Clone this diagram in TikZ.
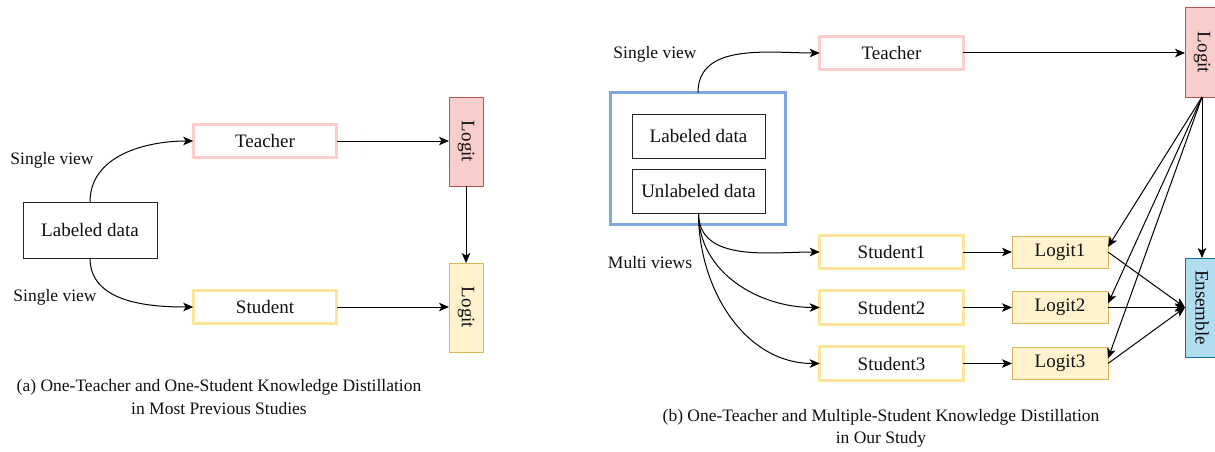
\documentclass[tikz,border=0pt]{standalone}
\usepackage{fontspec}
\setmainfont{Liberation Serif}
\newfontfamily\figserif{Liberation Serif}
\usetikzlibrary{arrows.meta}
\definecolor{teacherc}{HTML}{FFCCCC}
\definecolor{studentc}{HTML}{FFE599}
\definecolor{groupc}{HTML}{7EA6E0}
\definecolor{redfill}{HTML}{F8CECC}
\definecolor{redline}{HTML}{B85450}
\definecolor{yelfill}{HTML}{FFF2CC}
\definecolor{yelline}{HTML}{D6B656}
\definecolor{ensfill}{HTML}{B1DDF0}
\definecolor{ensline}{HTML}{10739E}
\definecolor{inkc}{HTML}{111111}
\begin{document}
\begin{tikzpicture}[x=1pt,y=-1pt,
  txt/.style={text=inkc, font=\figserif\fontsize{19}{22}\selectfont},
  basebox/.style={txt, inner sep=0pt, outer sep=0pt},
  plainbox/.style={basebox, draw=black!85, line width=1pt},
  teacherbox/.style={basebox, draw=teacherc, line width=2.6pt, minimum width=143.5, minimum height=33.5},
  studentbox/.style={basebox, draw=studentc, line width=2.6pt, minimum width=143.5, minimum height=33.5},
  redlogit/.style={basebox, draw=redline, fill=redfill, line width=1pt},
  yellogit/.style={basebox, draw=yelline, fill=yelfill, line width=1pt},
  ensbox/.style={basebox, draw=ensline, fill=ensfill, line width=1pt},
  viewlbl/.style={text=inkc, font=\figserif\fontsize{17.5}{21}\selectfont, inner sep=0pt},
  caption/.style={text=inkc, align=center, inner sep=0pt},
  conn/.style={draw=black, line width=1pt, -{Stealth[length=10pt,width=8.5pt,inset=2.5pt]}}
]
\clip (0,0) rectangle (1215,452);
\fill[white] (0,0) rectangle (1215,452);

% ---------------- (a) one teacher, one student ----------------
\node[plainbox, minimum width=134, minimum height=56] (ld) at (90,230) {Labeled data};
\node[teacherbox] (ta) at (265,141) {Teacher};
\node[studentbox] (sa) at (265,307) {Student};
\node[redlogit, minimum width=34, minimum height=89] (lra) at (466,141.5) {\rotatebox{-90}{Logit}};
\node[yellogit, minimum width=34, minimum height=89] (lya) at (466,307.5) {\rotatebox{-90}{Logit}};

\node[viewlbl] (sva) at (52,160) {Single view};
\node[viewlbl] (svb) at (55,297) {Single view};

\draw[conn] (ld.north) to[out=90,in=180] (ta.west);
\draw[conn] (ld.south) to[out=-90,in=180] (sa.west);
\draw[conn] (ta.east) -- (ta.east -| lra.west);
\draw[conn] (lra.south) -- (lya.north);
\draw[conn] (sa.east) -- (sa.east -| lya.west);

\node[caption, font=\figserif\fontsize{17.5}{23}\selectfont] (capa) at (219,397.5)
  {(a) One-Teacher and One-Student Knowledge Distillation\\in Most Previous Studies};

% ---------------- (b) one teacher, multiple students ----------------
\node[basebox, draw=groupc, line width=3pt, minimum width=175, minimum height=132] (grp) at (698,158.5) {};
\node[plainbox, minimum width=133, minimum height=44] (lbd) at (698.5,136) {Labeled data};
\node[plainbox, minimum width=133, minimum height=44] (uld) at (698.5,191) {Unlabeled data};

\node[teacherbox] (tb) at (891.5,53) {Teacher};
\node[studentbox] (s1) at (891.5,252) {Student1};
\node[studentbox] (s2) at (891.5,307.5) {Student2};
\node[studentbox] (s3) at (891.5,363.5) {Student3};

\node[yellogit, minimum width=96, minimum height=32] (l1) at (1060,252) {Logit1};
\node[yellogit, minimum width=96, minimum height=32] (l2) at (1060,307.5) {Logit2};
\node[yellogit, minimum width=96, minimum height=32] (l3) at (1060,363.5) {Logit3};

\node[redlogit, minimum width=34, minimum height=89] (lrb) at (1202,52.5) {\rotatebox{-90}{Logit}};
\node[ensbox, minimum width=34, minimum height=99] (ens) at (1202,307.5) {\rotatebox{-90}{Ensemble}};

\node[viewlbl] (svc) at (655,54) {Single view};
\node[viewlbl] (mv) at (650,263) {Multi views};

\draw[conn] (grp.north) to[out=90,in=180] (tb.west);
\draw[conn] (uld.south) to[out=-90,in=180] (s1.west);
\draw[conn] (uld.south) to[out=-90,in=180] (s2.west);
\draw[conn] (uld.south) to[out=-90,in=180] (s3.west);

\draw[conn] (s1.east) -- (l1.west);
\draw[conn] (s2.east) -- (l2.west);
\draw[conn] (s3.east) -- (l3.west);

\draw[conn] (tb.east) -- (tb.east -| lrb.west);
\draw[conn] (lrb.south) -- (ens.north);
\draw[conn] (lrb.south) -- ([yshift=5pt]l1.east);
\draw[conn] (lrb.south) -- ([yshift=4pt]l2.east);
\draw[conn] (lrb.south) -- ([yshift=5pt]l3.east);

\draw[conn] (l1.east) -- (ens.west);
\draw[conn] (l2.east) -- (ens.west);
\draw[conn] (l3.east) -- (ens.west);

\node[caption, font=\figserif\fontsize{17.5}{22}\selectfont] (capb) at (881,428)
  {(b) One-Teacher and Multiple-Student Knowledge Distillation\\in Our Study};
\end{tikzpicture}
\end{document}
